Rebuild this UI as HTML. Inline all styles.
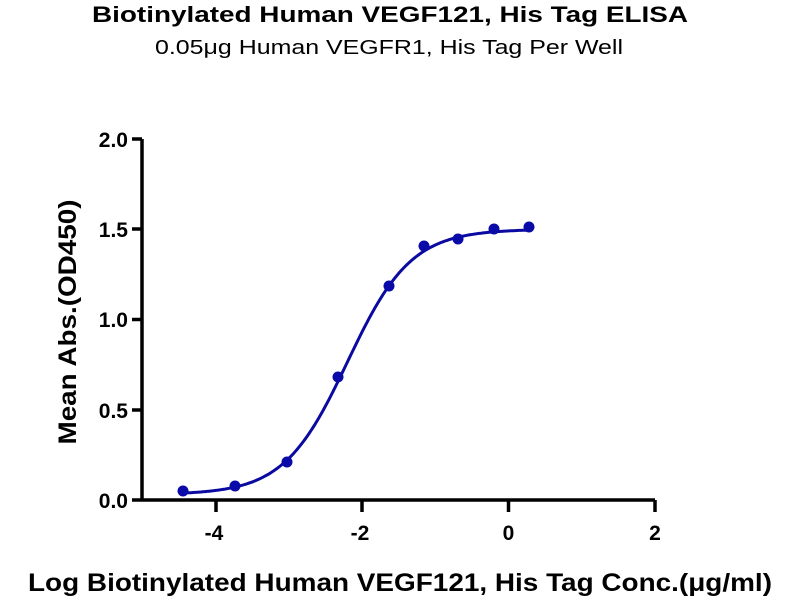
<!DOCTYPE html>
<html><head><meta charset="utf-8"><style>body{margin:0;background:#fff}svg{display:block}</style></head><body>
<svg width="800" height="600" xmlns="http://www.w3.org/2000/svg" font-family="Liberation Sans, Arial, sans-serif">
<text x="390" y="22" text-anchor="middle" font-size="22" font-weight="bold" textLength="596" lengthAdjust="spacingAndGlyphs">Biotinylated Human VEGF121, His Tag ELISA</text>
<text x="389" y="54" text-anchor="middle" font-size="20" textLength="468" lengthAdjust="spacingAndGlyphs">0.05μg Human VEGFR1, His Tag Per Well</text>
<g stroke="#000" stroke-width="3.5" fill="none">
<path d="M142 139V500M132 139H142M132 229H142M132 319.5H142M132 410H142M132 500H655"/>
<path d="M216 500V512M362 500V512M508.5 500V512M655 500V512"/>
</g>
<g font-size="21" font-weight="bold" text-anchor="end">
<text x="128" y="147">2.0</text><text x="128" y="237">1.5</text><text x="128" y="327">1.0</text><text x="128" y="418">0.5</text><text x="128" y="508">0.0</text>
</g>
<g font-size="21" font-weight="bold" text-anchor="middle">
<text x="214" y="540">-4</text><text x="360" y="540">-2</text><text x="508.5" y="540">0</text><text x="655" y="540">2</text>
</g>
<text transform="translate(76 322) rotate(-90)" text-anchor="middle" font-size="25" font-weight="bold" textLength="245" lengthAdjust="spacingAndGlyphs">Mean Abs.(OD450)</text>
<text x="400" y="591" text-anchor="middle" font-size="25" font-weight="bold" textLength="744" lengthAdjust="spacingAndGlyphs">Log Biotinylated Human VEGF121, His Tag Conc.(μg/ml)</text>
<path id="c" fill="none" stroke="#0a0aa0" stroke-width="3"/>
<g fill="#0a0aa8">
<circle cx="183" cy="491" r="5.5"/><circle cx="235" cy="486" r="5.5"/><circle cx="287" cy="462" r="5.5"/><circle cx="338" cy="377" r="5.5"/><circle cx="389" cy="286" r="5.5"/><circle cx="424" cy="246" r="5.5"/><circle cx="458" cy="239" r="5.5"/><circle cx="494" cy="229" r="5.5"/><circle cx="529" cy="227" r="5.5"/>
</g>
<script>
var d="";for(var px=183;px<=529;px+=2){var x=(px-508.5)/73.2;var y=0.03+1.47/(1+Math.pow(10,(-2.2-x)));var py=500-y*180.5;d+=(d?"L":"M")+px+" "+py.toFixed(1);}
document.getElementById("c").setAttribute("d",d);
</script>
</svg>
</body></html>
